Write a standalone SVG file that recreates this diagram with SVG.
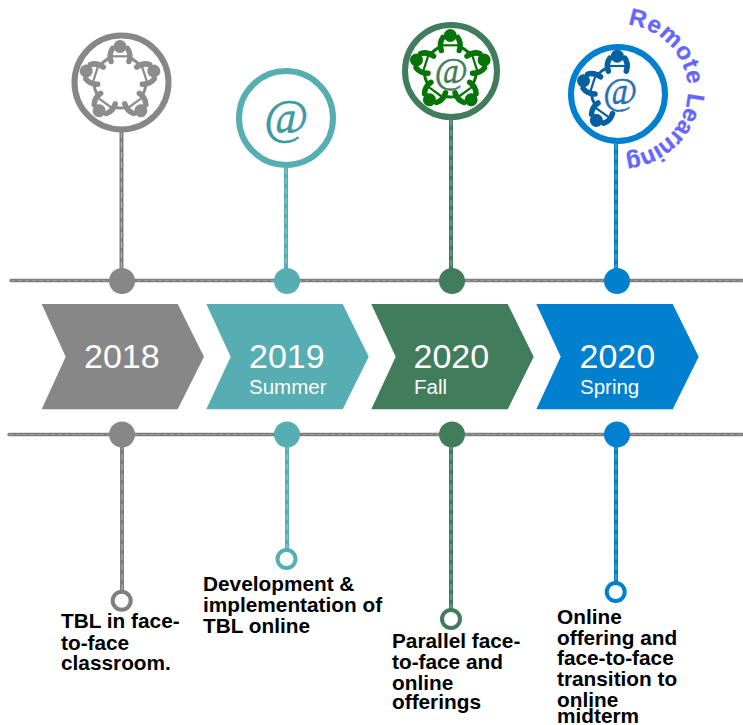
<svg xmlns="http://www.w3.org/2000/svg" width="743" height="725" viewBox="0 0 743 725">
<style>
text{font-family:"Liberation Sans",Arial,sans-serif}
.yr{font-size:34px;fill:#fff}
.sub{font-size:20.500px;fill:#fff}
.cap{font-size:20.800px;font-weight:bold;fill:#000}
.at{font-family:"Liberation Serif","Times New Roman",serif;font-style:italic;text-anchor:middle;stroke-width:.5}
.hl{fill:none;stroke:#7f7f7f;stroke-width:3.500;stroke-linecap:round}
.hd{fill:none;stroke:#fff;stroke-width:.8;stroke-opacity:.3;stroke-dasharray:4 3}
.v{fill:none;stroke-width:4}
.vd{fill:none;stroke:#fff;stroke-width:1;stroke-opacity:.4;stroke-dasharray:6 4}
.ring{fill:#fff;stroke-width:6}
.end{fill:#fff;stroke-width:4}
</style>
<defs>
<g id="p">
<circle cx="0" cy="-35.500" r="6.500"/>
<path d="M-9-20.500C-10.500-25-10-30-7.500-33.500M9-20.500C10.500-25 10-30 7.500-33.500" fill="none" stroke="currentColor" stroke-width="5.500" stroke-linecap="round"/>
<path d="M-8-26.800H8V-24.600H-8Z"/>
</g>
<g id="five">
<use href="#p"/><use href="#p" transform="rotate(72)"/><use href="#p" transform="rotate(144)"/><use href="#p" transform="rotate(216)"/><use href="#p" transform="rotate(288)"/>
<circle r="26" fill="none" stroke="currentColor" stroke-width="3" stroke-dasharray="13 19.670" stroke-dashoffset="-10" transform="rotate(-90)"/>
</g>
</defs>
<g id="connectors">
<path class="hl" d="M11 280.500H742M9 434.500H742"/>
<path class="hd" d="M11 280.500H742M9 434.500H742"/>
<path class="v" stroke="#7f7f7f" d="M121.500 132V281M122 434V592"/>
<path class="v" stroke="#56adb2" d="M286 168V281M287 434V551"/>
<path class="v" stroke="#417d5c" d="M451 120V281M451 434V611"/>
<path class="v" stroke="#0080ce" d="M616 144V281M616 434V584"/>
<path class="vd" d="M121.500 132V281M122 434V592M286 168V281M287 434V551M451 120V281M451 434V611M616 144V281M616 434V584"/>
</g>
<g id="node-2018">
<circle cx="122" cy="281" r="13" fill="#878787"/><circle cx="122" cy="434.500" r="13" fill="#878787"/>
<path d="M41.700 304H177.700L204 356.700 177.700 409.300H41.700L65.700 356.700Z" fill="#878787"/>
<text class="yr" x="84" y="368">2018</text>
<circle class="ring" cx="121.500" cy="82.500" r="47" stroke="#878787"/>
<use href="#five" x="120" y="82" fill="#8c8c8c" color="#8c8c8c"/>
<circle class="end" cx="121.700" cy="600.700" r="9" stroke="#7f7f7f"/>
<text class="cap"><tspan x="61" y="628">TBL in face-</tspan><tspan x="61" y="650">to-face</tspan><tspan x="61" y="670">classroom.</tspan></text>
</g>
<g id="node-2019">
<circle cx="287" cy="281" r="13" fill="#56adb2"/><circle cx="287" cy="434.500" r="13" fill="#56adb2"/>
<path d="M206.300 304H342.700L368.700 356.700 342.700 409.300H206.300L230.700 356.700Z" fill="#56adb2"/>
<text class="yr" x="249" y="368">2019</text>
<text class="sub" x="249" y="394">Summer</text>
<circle class="ring" cx="286" cy="118" r="47" stroke="#56adb2"/>
<text class="at" x="286" y="133" font-size="48" fill="#3d9aa0" stroke="#3d9aa0">@</text>
<circle class="end" cx="286.500" cy="559" r="9" stroke="#56adb2"/>
<text class="cap"><tspan x="203" y="590.500">Development &amp;</tspan><tspan x="203" y="611.500">implementation of</tspan><tspan x="203" y="632.500">TBL online</tspan></text>
</g>
<g id="node-2020-fall">
<circle cx="452" cy="281" r="13" fill="#417d5c"/><circle cx="452" cy="434.500" r="13" fill="#417d5c"/>
<path d="M371.300 304H507.700L533.700 356.700 507.700 409.300H371.300L395.700 356.700Z" fill="#417d5c"/>
<text class="yr" x="413.500" y="368">2020</text>
<text class="sub" x="414" y="394">Fall</text>
<circle class="ring" cx="451" cy="71" r="46" stroke="#417d5c"/>
<use href="#five" x="450.300" y="71" fill="#067406" color="#067406"/>
<text class="at" x="451" y="83" font-size="36" fill="#417d5c" stroke="#417d5c">@</text>
<circle class="end" cx="451" cy="619" r="9" stroke="#417d5c"/>
<text class="cap"><tspan x="392" y="647.500">Parallel face-</tspan><tspan x="392" y="668.500">to-face and</tspan><tspan x="392" y="690">online</tspan><tspan x="392" y="708.500">offerings</tspan></text>
</g>
<g id="node-2020-spring">
<circle cx="617" cy="281" r="13" fill="#0080ce"/><circle cx="617" cy="434.500" r="13" fill="#0080ce"/>
<path d="M536.300 304H672.700L698.700 356.700 672.700 409.300H536.300L560.700 356.700Z" fill="#0080ce"/>
<text class="yr" x="579.500" y="368">2020</text>
<text class="sub" x="580" y="394">Spring</text>
<circle class="ring" cx="618" cy="94" r="47" stroke="#0080ce"/>
<g fill="#05609f" color="#05609f" transform="translate(617.300 91.700)">
<use href="#p"/><use href="#p" transform="rotate(-72)"/><use href="#p" transform="rotate(-144)"/>
<path d="M-9.700-24.100A26 26 0 0 0-19.900-16.700M-25.900 1.800A26 26 0 0 0-22 13.800" fill="none" stroke="#05609f" stroke-width="3"/>
</g>
<text class="at" x="620" y="104" font-size="37" fill="#2a6fb5" stroke="#2a6fb5">@</text>
<circle class="end" cx="615.700" cy="592" r="9" stroke="#0080ce"/>
<text class="cap"><tspan x="557" y="623.500">Online</tspan><tspan x="557" y="645">offering and</tspan><tspan x="557" y="665">face-to-face</tspan><tspan x="557" y="686">transition to</tspan><tspan x="557" y="706.500">online</tspan><tspan x="557" y="722.500">midterm</tspan></text>
</g>
<g id="label-remote-learning">
<path id="arc" d="M627.600 24.600A69 66 0 1 1 610 155.600" fill="none"/>
<text font-size="24" font-weight="bold" fill="#6666ff" stroke="#6666ff" stroke-width=".3" letter-spacing=".7"><textPath href="#arc">Remote <tspan letter-spacing="-.6">Learning</tspan></textPath></text>
</g>
</svg>
